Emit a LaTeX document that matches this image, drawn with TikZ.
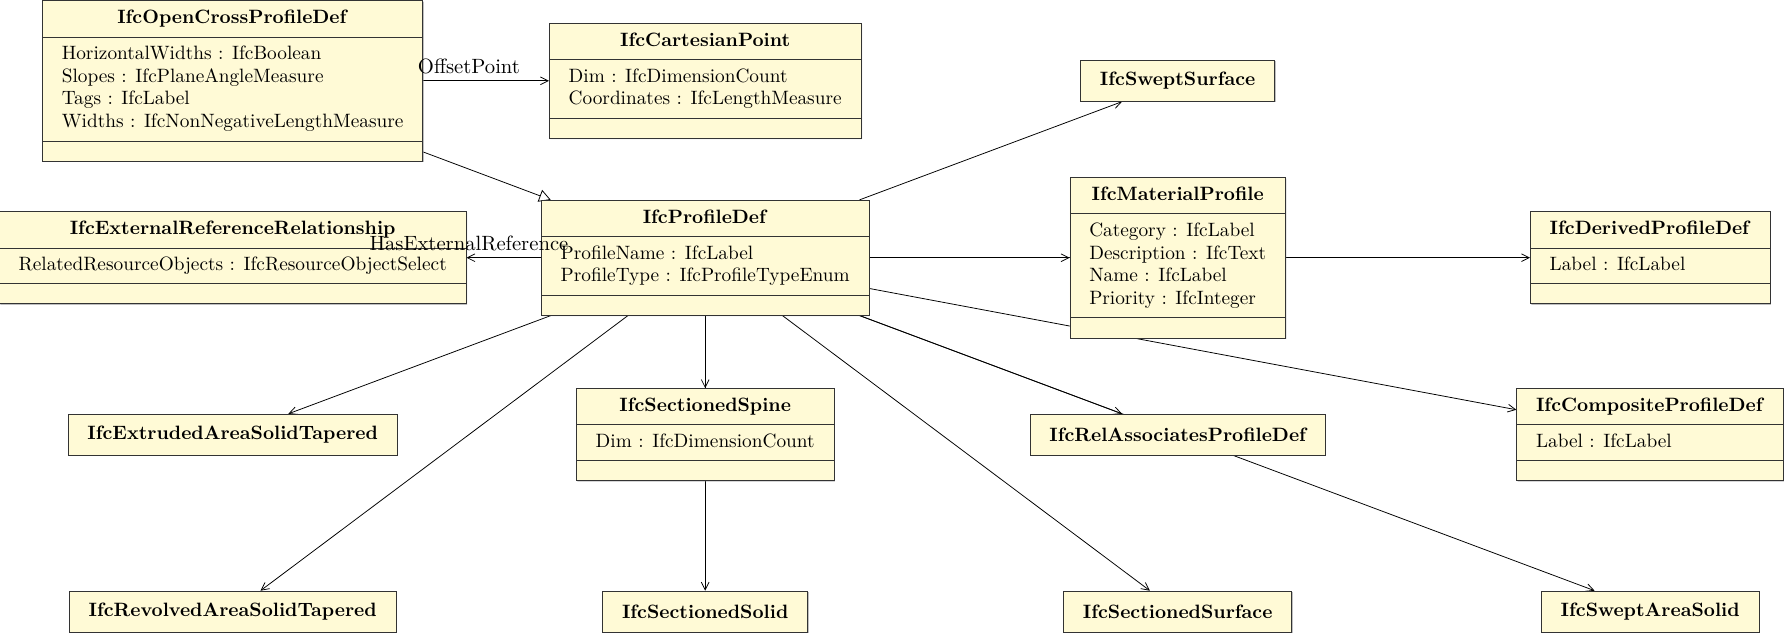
\documentclass[tikz,border=0pt]{standalone}
\usepackage{tikz}
\usetikzlibrary{positioning}
\usetikzlibrary{arrows}
\usetikzlibrary{arrows.meta}
\usetikzlibrary{shapes,shadows,backgrounds}
\definecolor{classyellow}{RGB}{255,250,214}
\tikzset{class node/.style={rectangle split, rectangle split parts=3, rectangle split part align={center,left,left}, draw=black!80, fill=classyellow, inner xsep=10pt, inner ysep=3.2pt, drop shadow={shadow xshift=0.5pt, shadow yshift=-0.5pt, opacity=0.5}},
         simple node/.style={rectangle, draw=black!80, fill=classyellow, inner xsep=10pt, minimum height=21.2pt, font=\bfseries, drop shadow={shadow xshift=0.5pt, shadow yshift=-0.5pt, opacity=0.5}},
         role label/.style={font=\fontsize{10.7pt}{13pt}\selectfont},}
\newcommand{\noops}{\rule{0pt}{3.6pt}}
\renewcommand{\arraystretch}{0.98}

\begin{document}
\begin{tikzpicture}[->, >={Straight Barb[length=4pt,width=4pt]}, x=8.6cm, y=-3.22cm]
    \useasboundingbox (-0.4925,-0.4568) rectangle (3.2832,3.1272);

    % first row
    \node[class node] (opencross) at (0,0) {\textbf{IfcOpenCrossProfileDef}\strut
        \nodepart{two}\begin{tabular}{@{}l@{}}HorizontalWidths : IfcBoolean\\Slopes : IfcPlaneAngleMeasure\\Tags : IfcLabel\\Widths : IfcNonNegativeLengthMeasure\end{tabular}
        \nodepart{three}\noops};
    \node[class node] (cartesian) at (1,0) {\textbf{IfcCartesianPoint}\strut
        \nodepart{two}\begin{tabular}{@{}l@{}}Dim : IfcDimensionCount\\Coordinates : IfcLengthMeasure\end{tabular}
        \nodepart{three}\noops};
    \node[simple node] (sweptsurface) at (2,0) {IfcSweptSurface};

    % second row
    \node[class node] (extref) at (0,1) {\textbf{IfcExternalReferenceRelationship}\strut
        \nodepart{two}\begin{tabular}{@{}l@{}}RelatedResourceObjects : IfcResourceObjectSelect\end{tabular}
        \nodepart{three}\noops};
    \node[class node] (profiledef) at (1,1) {\textbf{IfcProfileDef}\strut
        \nodepart{two}\begin{tabular}{@{}l@{}}ProfileName : IfcLabel\\ProfileType : IfcProfileTypeEnum\end{tabular}
        \nodepart{three}\noops};
    \node[class node] (material) at (2,1) {\textbf{IfcMaterialProfile}\strut
        \nodepart{two}\begin{tabular}{@{}l@{}}Category : IfcLabel\\Description : IfcText\\Name : IfcLabel\\Priority : IfcInteger\end{tabular}
        \nodepart{three}\noops};
    \node[class node] (derived) at (3,1) {\textbf{IfcDerivedProfileDef}\strut
        \nodepart{two}\begin{tabular}{@{}l@{}}Label : IfcLabel\end{tabular}
        \nodepart{three}\noops};

    % third row
    \node[simple node] (extruded) at (0,2) {IfcExtrudedAreaSolidTapered};
    \node[class node] (spine) at (1,2) {\textbf{IfcSectionedSpine}\strut
        \nodepart{two}\begin{tabular}{@{}l@{}}Dim : IfcDimensionCount\end{tabular}
        \nodepart{three}\noops};
    \node[simple node] (relassoc) at (2,2) {IfcRelAssociatesProfileDef};
    \node[class node] (composite) at (3,2) {\textbf{IfcCompositeProfileDef}\strut
        \nodepart{two}\begin{tabular}{@{}l@{}}Label : IfcLabel\end{tabular}
        \nodepart{three}\noops};

    % fourth row
    \node[simple node] (revolved) at (0,3) {IfcRevolvedAreaSolidTapered};
    \node[simple node] (secsolid) at (1,3) {IfcSectionedSolid};
    \node[simple node] (secsurface) at (2,3) {IfcSectionedSurface};
    \node[simple node] (sweptarea) at (3,3) {IfcSweptAreaSolid};

    \begin{scope}[on background layer]
    \path[draw]
    (opencross) edge (cartesian)
    (opencross) edge [-{Triangle[open,length=6pt,width=6.5pt]}] (profiledef)
    (profiledef) edge (extref)
    (profiledef) edge (sweptsurface)
    (profiledef) edge (material)
    (profiledef) edge (derived)
    (profiledef) edge (composite)
    (profiledef) edge (extruded)
    (profiledef) edge (revolved)
    (profiledef) edge (spine)
    (profiledef) edge (secsolid)
    (profiledef) edge (secsurface)
    (profiledef) edge (relassoc)
    (profiledef) edge (sweptarea);
    \end{scope}

    \path (opencross.center) -- node[above, role label] {OffsetPoint} (cartesian.center);
    \path (profiledef.center) -- node[above, role label] {HasExternalReference} (extref.center);
\end{tikzpicture}
\end{document}
